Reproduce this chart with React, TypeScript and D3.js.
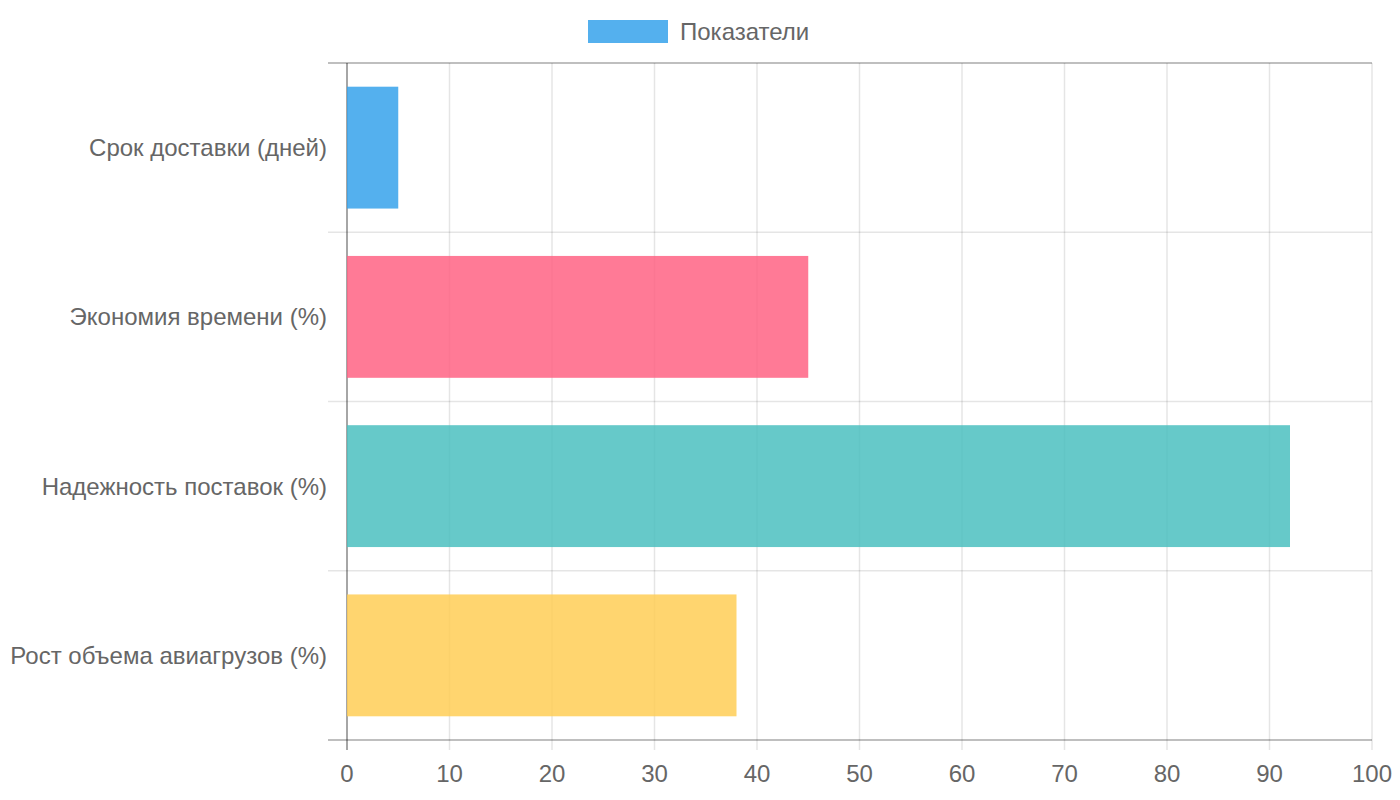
import React from "react";
import * as d3 from "d3";

const categories = [
  "Срок доставки (дней)",
  "Экономия времени (%)",
  "Надежность поставок (%)",
  "Рост объема авиагрузов (%)",
];
const values = [5, 45, 92, 38];
const fillColors = [
  "rgba(54,162,235,0.85)",
  "rgba(255,99,132,0.85)",
  "rgba(75,192,192,0.85)",
  "rgba(255,206,86,0.85)",
];
const xTicks = [0, 10, 20, 30, 40, 50, 60, 70, 80, 90, 100];
const legendLabel = "Показатели";

const W = 1400;
const H = 800;
const left = 347;
const right = 1372;
const top = 63;
const bottom = 740;
const FONT = "'Liberation Sans', Arial, Helvetica, sans-serif";

export default function App() {
  const x = d3.scaleLinear().domain([0, 100]).range([left, right]);
  const y = d3.scaleBand<string>().domain(categories).range([top, bottom]).padding(0);
  const bw = y.bandwidth();
  const barH = bw * 0.72;
  const grid = "rgba(0,0,0,0.1)";
  const axis = "rgba(0,0,0,0.25)";
  const zero = "rgba(0,0,0,0.35)";
  const boundaries = categories.map((c) => y(c) as number).concat([bottom]);

  return (
    <svg
      width={W}
      height={H}
      style={{ position: "absolute", left: 0, top: 0, background: "#fff" }}
      fontFamily={FONT}
    >
      {/* vertical grid lines */}
      {xTicks.map((t) => (
        <line
          key={"vg" + t}
          x1={x(t)}
          x2={x(t)}
          y1={top}
          y2={bottom + 10}
          stroke={t === 0 ? zero : grid}
          strokeWidth={t === 0 ? 2 : 1.5}
        />
      ))}
      {/* horizontal grid lines */}
      {boundaries.map((b, i) => (
        <line
          key={"hg" + i}
          x1={left - 19}
          x2={right}
          y1={b}
          y2={b}
          stroke={i === 0 || i === boundaries.length - 1 ? axis : grid}
          strokeWidth={i === 0 || i === boundaries.length - 1 ? 2 : 1.5}
        />
      ))}
      {/* bars */}
      {categories.map((c, i) => {
        const yc = (y(c) as number) + bw / 2;
        return (
          <rect
            key={"b" + i}
            x={x(0)}
            y={yc - barH / 2}
            width={x(values[i]) - x(0)}
            height={barH}
            fill={fillColors[i]}
          />
        );
      })}
      {/* y labels */}
      {categories.map((c, i) => (
        <text
          key={"yl" + i}
          x={327}
          y={(y(c) as number) + bw / 2}
          textAnchor="end"
          dominantBaseline="central"
          fontSize={24}
          fill="#666"
        >
          {c}
        </text>
      ))}
      {/* x labels */}
      {xTicks.map((t) => (
        <text
          key={"xl" + t}
          x={x(t)}
          y={782}
          textAnchor="middle"
          fontSize={24}
          fill="#666"
        >
          {t}
        </text>
      ))}
      {/* legend */}
      <rect x={588} y={20} width={80} height={23} fill={fillColors[0]} />
      <text x={680} y={40} fontSize={24} fill="#666">
        {legendLabel}
      </text>
    </svg>
  );
}
